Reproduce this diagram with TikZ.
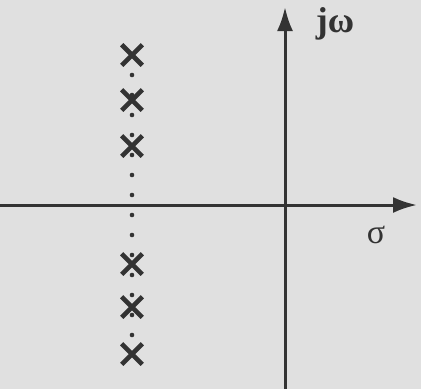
\documentclass[tikz,border=0pt]{standalone}
\usepackage{fontspec}
\setmainfont{Liberation Serif}
\usetikzlibrary{shapes.misc,arrows.meta}
\definecolor{bgc}{HTML}{E0E0E0}
\definecolor{inkc}{HTML}{333333}

\begin{document}
\begin{tikzpicture}[x=1pt,y=-1pt,
    pole/.style={cross out,draw=inkc,line width=4.6pt,minimum size=16pt,inner sep=0pt},
    axis/.style={draw=inkc,line width=3pt,-{Latex[length=24pt,width=16pt]}},
    lbl/.style={text=inkc,anchor=base,inner sep=0pt}]
  \def\px{132}\def\ox{285}\def\oy{205}
  % paper
  \fill[bgc] (0,0) rectangle (421,389);
  \useasboundingbox (0,0) rectangle (421,389);
  % axes
  \coordinate (sl) at (0,\oy);
  \coordinate (sr) at (417,\oy);
  \coordinate (wb) at (\ox,389);
  \coordinate (wt) at (\ox,7);
  \draw[axis] (sl) -- (sr);
  \draw[axis] (wb) -- (wt);
  \node[lbl] (jw) at (335,32) {\fontsize{36}{40}\selectfont\bfseries jω};
  \node[lbl] (sig) at (376,243) {\fontsize{34}{40}\selectfont σ};
  % dotted column of poles
  \foreach \k in {0,...,13}
    \fill[inkc] (\px,75+20*\k) circle (2.3pt);
  \foreach \y/\n in {55/p1,100/p2,146/p3,264/p4,307/p5,354/p6}
    \node[pole] (\n) at (\px,\y) {};
\end{tikzpicture}
\end{document}
